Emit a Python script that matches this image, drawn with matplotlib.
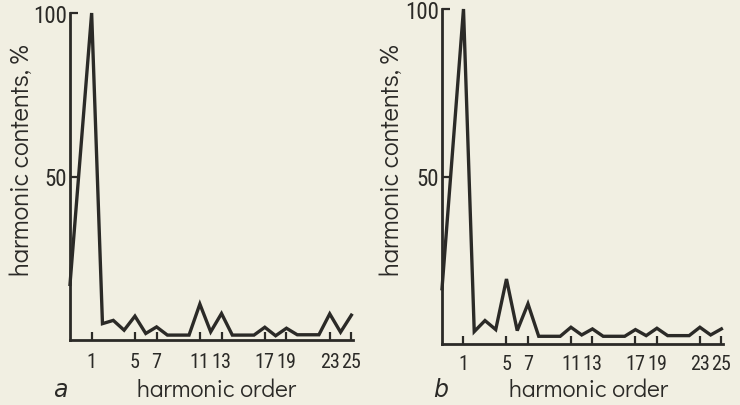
import matplotlib
matplotlib.use("Agg")
import matplotlib.pyplot as plt
from matplotlib import font_manager

# harmonic order (x = -1 is the axis origin)
orders = [-1, 1, 2, 3, 4, 5, 6, 7, 8, 9, 10, 11, 12, 13, 14, 15, 16, 17, 18, 19, 20, 21, 22, 23, 24, 25]
contents_a = [17, 100, 5, 6, 3, 7.3, 2, 4, 1.5, 1.5, 1.5, 11, 2.5, 8.1, 1.5, 1.5, 1.5, 3.9, 1.3, 3.6, 1.6, 1.6, 1.6, 8, 2.4, 7.6]
contents_b = [16.5, 100, 3.7, 7, 4.3, 19.4, 4, 12, 2.3, 2.3, 2.3, 5, 2.7, 4.5, 2.3, 2.3, 2.3, 4.3, 2.5, 4.7, 2.5, 2.5, 2.5, 5, 2.7, 4.5]
xtick_vals = [1, 5, 7, 11, 13, 17, 19, 23, 25]
xtick_labels = ["1", "5", "7", "11", "13", "17", "19", "23", "25"]
ytick_vals = [50, 100]
ytick_labels = ["50", "100"]
panel_labels = ["a", "b"]

bg = "#f1efe2"
ink = "#2b2a27"

names = {f.name for f in font_manager.fontManager.ttflist}


def pick(cands, default="DejaVu Sans"):
    for c in cands:
        if c in names:
            return c
    return default


narrow = pick(["Roboto Condensed", "Liberation Sans Narrow", "Archivo Narrow",
               "PT Sans Narrow", "Fira Sans Condensed", "Encode Sans Condensed",
               "Saira Condensed", "Pragati Narrow", "Abel"])
labfont = pick(["Didact Gothic", "Questrial", "Century Gothic", "Poppins", "Open Sans"])
tick_fam = [narrow, "DejaVu Sans"]
lab_fam = [labfont, "DejaVu Sans"]

fig = plt.figure(figsize=(7.4, 4.06), dpi=100, facecolor=bg)

W, H = 740.0, 406.0
# pixel boxes: (left, right, bottom, top)
boxes = [(70, 353, 341, 14), (442, 723, 345, 10)]
datas = [contents_a, contents_b]
ylab_x = [22, 392]
xlab_x = [217, 589]
letter_x = [60, 441]
xpads = [9, 7]

for i, (l, r, b, t) in enumerate(boxes):
    ax = fig.add_axes([l / W, (H - b) / H, (r - l) / W, (b - t) / H])
    ax.set_facecolor("none")
    ax.plot(orders, datas[i], color=ink, lw=2.4, solid_joinstyle="miter", clip_on=False)
    ax.set_xlim(-1, 25.15)
    ax.set_ylim(0, 100)
    for s in ["top", "right"]:
        ax.spines[s].set_visible(False)
    for s in ["left", "bottom"]:
        ax.spines[s].set_color(ink)
        ax.spines[s].set_linewidth(2.0)
    ax.set_xticks(xtick_vals)
    ax.set_xticklabels(xtick_labels, family=tick_fam, fontsize=14.5)
    ax.set_yticks(ytick_vals)
    ax.set_yticklabels(ytick_labels, family=tick_fam, fontsize=16.5)
    ax.tick_params(axis="both", direction="in", length=6, width=1.6, color=ink,
                   labelcolor=ink)
    ax.tick_params(axis="x", pad=xpads[i])
    ax.tick_params(axis="y", pad=2)
    fig.text(ylab_x[i] / W, 1 - 160 / H, "harmonic contents, %", rotation=90,
             ha="center", va="center", fontsize=18.5, color=ink, family=lab_fam)
    fig.text(xlab_x[i] / W, 1 - 391 / H, "harmonic order", ha="center", va="center",
             fontsize=17.5, color=ink, family=lab_fam)
    fig.text(letter_x[i] / W, 1 - 390 / H, panel_labels[i], ha="center", va="center",
             fontsize=17, color=ink, style="italic", family="DejaVu Sans")

fig.savefig("out.png", dpi=100, facecolor=bg)
